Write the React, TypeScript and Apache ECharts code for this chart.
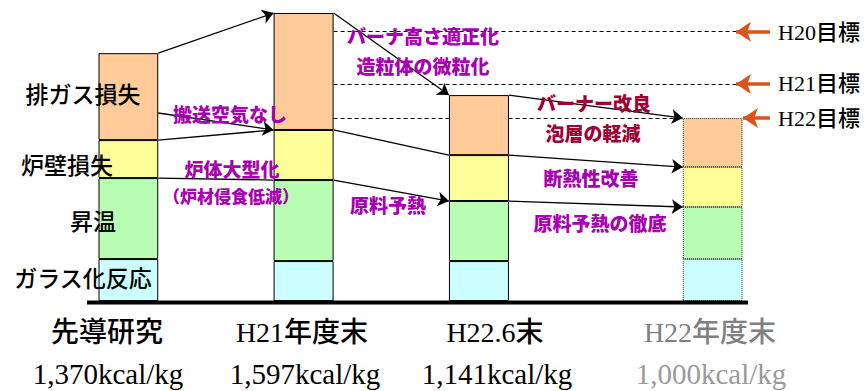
import React, { useEffect, useRef } from "react";
import * as echarts from "echarts";

// ---- data ----
const categories = ["先導研究", "H21年度末", "H22.6末", "H22年度末"];
const energyLabels = ["1,370kcal/kg", "1,597kcal/kg", "1,141kcal/kg", "1,000kcal/kg"];
const slots = [0, 3, 6, 10]; // slot index of each bar on an 11-slot axis
const slotCount = 11;
const glassReaction = [232, 221, 221, 232]; // ガラス化反応
const heating = [448, 448, 332, 288]; // 昇温
const wallLoss = [210, 277, 254, 221]; // 炉壁損失
const exhaustLoss = [481, 647, 332, 271]; // 排ガス損失
const targetNames = ["H20目標", "H21目標", "H22目標"];
const targetValues = [1490, 1200, 1012];
// flows: [fromBar, fromValue, toBar, toValue, arrowHead]
const flows: [number, number, number, number, boolean][] = [
  [0, 1371, 1, 1593, true],
  [0, 1040, 1, 946, true],
  [0, 890, 1, 946, false],
  [0, 680, 1, 669, false],
  [1, 1593, 2, 1139, true],
  [1, 946, 2, 807, false],
  [1, 669, 2, 553, true],
  [2, 1139, 3, 1012, true],
  [2, 807, 3, 741, true],
  [2, 553, 3, 520, true],
];
const seriesNames = ["ガラス化反応", "昇温", "炉壁損失", "排ガス損失"];
const seriesValues = [glassReaction, heating, wallLoss, exhaustLoss];
const seriesColors = ["#CCFFFF", "#B8FFB4", "#FFFF99", "#FFCC99"];

const PURPLE = "#A800B0";
const CRIMSON = "#A00032";
const notes: [string, number, number, string, number][] = [
  ["搬送空気なし", 230, 113, PURPLE, 19],
  ["炉体大型化", 232, 168, PURPLE, 19],
  ["（炉材侵食低減）", 231, 195, PURPLE, 17],
  ["原料予熱", 388, 204, PURPLE, 19],
  ["バーナ高さ適正化", 423, 35, PURPLE, 19],
  ["造粒体の微粒化", 423, 65, PURPLE, 19],
  ["バーナー改良", 594, 102, CRIMSON, 19],
  ["泡層の軽減", 593, 132, CRIMSON, 19],
  ["断熱性改善", 591, 177, PURPLE, 19],
  ["原料予熱の徹底", 600, 222, PURPLE, 19],
];
const leftLabels: [string, number, number][] = [
  ["排ガス損失", 83, 93],
  ["炉壁損失", 67, 164],
  ["昇温", 93, 220],
  ["ガラス化反応", 83, 277],
];

const GRID_LEFT = 99;
const GRID_RIGHT = 125;
const BAR_W = 60;
const W = 867;
const BAND = (W - GRID_LEFT - GRID_RIGHT) / slotCount;
const HALF = BAR_W / 2 / BAND;

const JP = '"Noto Sans CJK JP"';
const SERIF = '"Liberation Serif", "Noto Sans CJK JP"';

function txt(text: string, x: number, y: number, font: string, fill: string, align = "center") {
  return {
    type: "text",
    z: 100,
    x,
    y,
    style: {
      text,
      font,
      fill,
      align,
      verticalAlign: "middle",
      textAlign: align,
      textVerticalAlign: "middle",
    },
  };
}

export default function App() {
  const ref = useRef<HTMLDivElement>(null);
  useEffect(() => {
    if (!ref.current) return;
    const chart = echarts.init(ref.current, null, { renderer: "svg" });
    const slotData = (vals: number[]) =>
      Array.from({ length: slotCount }, (_, i) => {
        const j = slots.indexOf(i);
        if (j < 0) return "-";
        return j === 3
          ? { value: vals[j], itemStyle: { borderType: "dotted", borderColor: "#222" } }
          : { value: vals[j] };
      });

    const barSeries = seriesValues.map((vals, k) => ({
      name: seriesNames[k],
      type: "bar",
      stack: "total",
      barWidth: BAR_W,
      xAxisIndex: 0,
      yAxisIndex: 0,
      data: slotData(vals),
      itemStyle: { color: seriesColors[k], borderColor: "#000", borderWidth: 1 },
      emphasis: { disabled: true },
    }));

    const flowLine = (f: [number, number, number, number, boolean]) => ({
      coords: [
        [slots[f[0]] + HALF, f[1]],
        [slots[f[2]] - HALF, f[3]],
      ],
    });

    const toSlot = (px: number) => (px - GRID_LEFT) / BAND - 0.5;

    const targetEnds = [toSlot(738), toSlot(738), slots[3] - HALF];
    const arrowTips = [toSlot(736), toSlot(736), toSlot(743)];

    const option: any = {
      animation: false,
      grid: { left: GRID_LEFT, right: GRID_RIGHT, top: 0, bottom: 90 },
      xAxis: [
        {
          type: "category",
          data: Array.from({ length: slotCount }, (_, i) => String(i)),
          show: false,
        },
        { type: "value", min: -0.5, max: slotCount - 0.5, show: false },
      ],
      yAxis: { type: "value", min: 0, max: 1665, show: false },
      series: [
        ...barSeries,
        {
          type: "lines",
          coordinateSystem: "cartesian2d",
          xAxisIndex: 1,
          yAxisIndex: 0,
          clip: false,
          z: 5,
          symbol: ["none", "arrow"],
          symbolSize: 11,
          lineStyle: { color: "#000", width: 1.3, opacity: 1, curveness: 0 },
          data: flows.filter((f) => f[4]).map(flowLine),
        },
        {
          type: "lines",
          coordinateSystem: "cartesian2d",
          xAxisIndex: 1,
          yAxisIndex: 0,
          clip: false,
          z: 5,
          symbol: ["none", "none"],
          lineStyle: { color: "#000", width: 1.3, opacity: 1, curveness: 0 },
          data: flows.filter((f) => !f[4]).map(flowLine),
        },
        {
          type: "lines",
          coordinateSystem: "cartesian2d",
          xAxisIndex: 1,
          yAxisIndex: 0,
          clip: false,
          z: 1,
          symbol: ["none", "none"],
          lineStyle: { color: "#000", width: 1, opacity: 1, type: [4, 3], curveness: 0 },
          data: targetValues.map((v, i) => ({
            coords: [
              [slots[1] + HALF, v],
              [targetEnds[i], v],
            ],
          })),
        },
        {
          type: "lines",
          coordinateSystem: "cartesian2d",
          xAxisIndex: 1,
          yAxisIndex: 0,
          clip: false,
          z: 6,
          symbol: ["none", "arrow"],
          symbolSize: [0, 15],
          lineStyle: { color: "#D9541A", width: 3.5, opacity: 1, curveness: 0 },
          data: targetValues.map((v, i) => ({
            coords: [
              [toSlot(770), v],
              [arrowTips[i], v],
            ],
          })),
        },
      ],
      graphic: [
        {
          type: "line",
          z: 50,
          shape: { x1: 87, y1: 302.5, x2: 748, y2: 302.5 },
          style: { stroke: "#000", lineWidth: 4 },
        },
        ...leftLabels.map(([t, x, y]) => txt(t, x, y, `500 23px ${JP}`, "#000")),
        ...notes.map(([t, x, y, c, s]) => txt(t, x, y, `900 ${s}px ${JP}`, c)),
        ...targetNames.map((t, i) =>
          txt(t, 778, [32, 83, 118][i], `500 22px ${SERIF}`, "#000", "left")
        ),
        ...categories.map((t, i) =>
          txt(t, [107, 302, 495, 710][i], 332, `500 28px ${SERIF}`, i === 3 ? "#808080" : "#000")
        ),
        ...energyLabels.map((t, i) =>
          txt(t, [108, 305, 497, 711][i], 374, `29px ${SERIF}`, i === 3 ? "#9A9A9A" : "#000")
        ),
      ],
    };
    chart.setOption(option);
    return () => chart.dispose();
  }, []);
  return (
    <div
      ref={ref}
      style={{ position: "absolute", left: 0, top: 0, width: 867, height: 391, background: "#fff" }}
    />
  );
}
